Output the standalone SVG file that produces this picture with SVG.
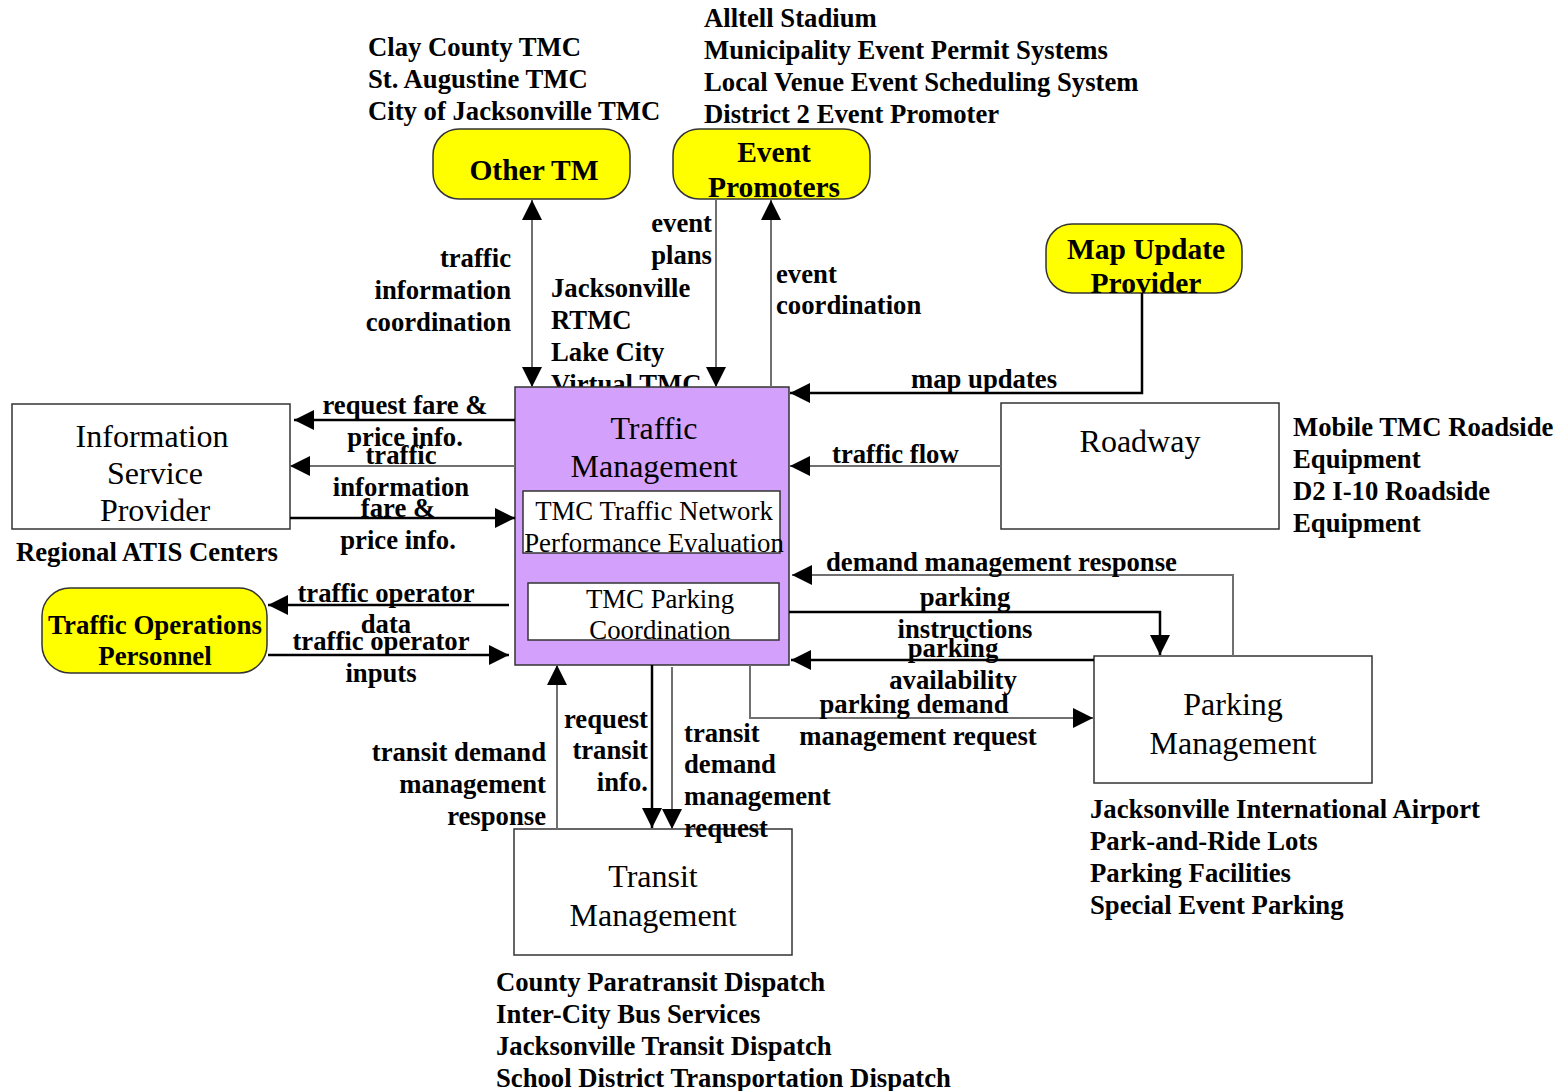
<svg xmlns="http://www.w3.org/2000/svg" width="1566" height="1091" viewBox="0 0 1566 1091">
<style>
.lbl{font-family:"Liberation Serif",serif;font-weight:bold;font-size:26.7px;fill:#000}
.r{text-anchor:end}
.m{text-anchor:middle}
.nt{font-family:"Liberation Serif",serif;font-size:32px;fill:#000;text-anchor:middle}
.st{font-family:"Liberation Serif",serif;font-size:26.8px;fill:#000;text-anchor:middle}
.yt{font-family:"Liberation Serif",serif;font-weight:bold;font-size:29.5px;fill:#000;text-anchor:middle}
.box{fill:#fff;stroke:#333;stroke-width:1.5}
.yel{fill:#ffff00;stroke:#333;stroke-width:1.5}
.k{fill:none;stroke:#000;stroke-width:2.5}
.g{fill:none;stroke:#707070;stroke-width:2}
</style>
<defs>
<marker id="ah" viewBox="0 0 20 20" refX="20" refY="10" markerWidth="20" markerHeight="20" markerUnits="userSpaceOnUse" orient="auto-start-reverse">
<path d="M0,0 L20,10 L0,20 z" fill="#000"/>
</marker>
</defs>

<g id="other-tm">
<rect class="yel" x="433" y="129" width="197" height="70" rx="26"/>
<text class="yt" x="534" y="180">Other TM</text>
<text class="lbl" x="368" y="56">Clay County TMC</text>
<text class="lbl" x="368" y="88">St. Augustine TMC</text>
<text class="lbl" x="368" y="120">City of Jacksonville TMC</text>
</g>

<g id="event-promoters">
<rect class="yel" x="673" y="129" width="197" height="70" rx="26"/>
<text class="yt" x="774" y="162">Event</text>
<text class="yt" x="774" y="197">Promoters</text>
<text class="lbl" x="704" y="27">Alltell Stadium</text>
<text class="lbl" x="704" y="59">Municipality Event Permit Systems</text>
<text class="lbl" x="704" y="91">Local Venue Event Scheduling System</text>
<text class="lbl" x="704" y="123">District 2 Event Promoter</text>
</g>

<g id="map-update-provider">
<rect class="yel" x="1046" y="224" width="196" height="69" rx="26"/>
<text class="yt" x="1146" y="259">Map Update</text>
<text class="yt" x="1146" y="293">Provider</text>
</g>

<g id="traffic-operations-personnel">
<rect class="yel" x="42" y="588" width="225" height="85" rx="28"/>
<text class="yt" x="155" y="634" style="font-size:26.9px">Traffic Operations</text>
<text class="yt" x="155" y="665" style="font-size:26.9px">Personnel</text>
</g>

<g id="information-service-provider">
<rect class="box" x="12" y="404" width="278" height="125"/>
<text class="nt" x="152" y="447">Information</text>
<text class="nt" x="155" y="484">Service</text>
<text class="nt" x="155" y="521">Provider</text>
<text class="lbl" x="16" y="561">Regional ATIS Centers</text>
</g>

<g id="traffic-management">
<text class="lbl" x="551" y="297">Jacksonville</text>
<text class="lbl" x="551" y="329">RTMC</text>
<text class="lbl" x="551" y="361">Lake City</text>
<text class="lbl" x="551" y="393">Virtual TMC</text>
<rect x="515" y="387" width="274" height="278" fill="#d3a0fc" stroke="#333" stroke-width="1.5"/>
<text class="nt" x="654" y="439">Traffic</text>
<text class="nt" x="654" y="477">Management</text>
<rect class="box" x="523" y="491" width="257" height="62"/>
<text class="st" x="654" y="520">TMC Traffic Network</text>
<text class="st" x="654" y="552">Performance Evaluation</text>
<rect class="box" x="528" y="583" width="251" height="57"/>
<text class="st" x="660" y="608">TMC Parking</text>
<text class="st" x="660" y="639">Coordination</text>
</g>

<g id="roadway">
<rect class="box" x="1001" y="403" width="278" height="126"/>
<text class="nt" x="1140" y="452">Roadway</text>
<text class="lbl" x="1293" y="436">Mobile TMC Roadside</text>
<text class="lbl" x="1293" y="468">Equipment</text>
<text class="lbl" x="1293" y="500">D2 I-10 Roadside</text>
<text class="lbl" x="1293" y="532">Equipment</text>
</g>

<g id="parking-management">
<rect class="box" x="1094" y="656" width="278" height="127"/>
<text class="nt" x="1233" y="715">Parking</text>
<text class="nt" x="1233" y="754">Management</text>
<text class="lbl" x="1090" y="818">Jacksonville International Airport</text>
<text class="lbl" x="1090" y="850">Park-and-Ride Lots</text>
<text class="lbl" x="1090" y="882">Parking Facilities</text>
<text class="lbl" x="1090" y="914">Special Event Parking</text>
</g>

<g id="transit-management">
<rect class="box" x="514" y="829" width="278" height="126"/>
<text class="nt" x="653" y="887">Transit</text>
<text class="nt" x="653" y="926">Management</text>
<text class="lbl" x="496" y="991">County Paratransit Dispatch</text>
<text class="lbl" x="496" y="1023">Inter-City Bus Services</text>
<text class="lbl" x="496" y="1055">Jacksonville Transit Dispatch</text>
<text class="lbl" x="496" y="1087">School District Transportation Dispatch</text>
</g>

<g id="connectors">
<path class="g" d="M532,200 L532,387" marker-start="url(#ah)" marker-end="url(#ah)"/>
<path class="g" d="M716,200 L716,387" marker-end="url(#ah)"/>
<path class="g" d="M771,387 L771,200" marker-end="url(#ah)"/>
<path class="k" d="M1142,293 L1142,393 L790,393" marker-end="url(#ah)"/>
<path class="g" d="M1001,466 L790,466" marker-end="url(#ah)"/>
<path class="k" d="M515,420 L294,420" marker-end="url(#ah)"/>
<path class="g" d="M515,466 L290,466" marker-end="url(#ah)"/>
<path class="k" d="M290,518 L515,518" marker-end="url(#ah)"/>
<path class="k" d="M509,605 L268,605" marker-end="url(#ah)"/>
<path class="k" d="M268,655 L509,655" marker-end="url(#ah)"/>
<path class="g" d="M1233,656 L1233,575 L792,575" marker-end="url(#ah)"/>
<path class="k" d="M789,612 L1160,612 L1160,655" marker-end="url(#ah)"/>
<path class="k" d="M1094,660 L791,660" marker-end="url(#ah)"/>
<path class="g" d="M750,665 L750,718 L1093,718" marker-end="url(#ah)"/>
<path class="g" d="M557,829 L557,665" marker-end="url(#ah)"/>
<path class="k" d="M652,665 L652,828" marker-end="url(#ah)"/>
<path class="g" d="M672,667 L672,829" marker-end="url(#ah)"/>
</g>

<g id="connector-labels">
<text class="lbl r" x="511" y="267">traffic</text>
<text class="lbl r" x="511" y="299">information</text>
<text class="lbl r" x="511" y="331">coordination</text>
<text class="lbl r" x="712" y="232">event</text>
<text class="lbl r" x="712" y="264">plans</text>
<text class="lbl" x="776" y="283">event</text>
<text class="lbl" x="776" y="314">coordination</text>
<text class="lbl m" x="984" y="388">map updates</text>
<text class="lbl" x="832" y="463">traffic flow</text>
<text class="lbl m" x="405" y="414">request fare &amp;</text>
<text class="lbl m" x="405" y="446">price info.</text>
<text class="lbl m" x="401" y="464">traffic</text>
<text class="lbl m" x="401" y="496">information</text>
<text class="lbl m" x="398" y="517">fare &amp;</text>
<text class="lbl m" x="398" y="549">price info.</text>
<text class="lbl m" x="386" y="602">traffic operator</text>
<text class="lbl m" x="386" y="633">data</text>
<text class="lbl m" x="381" y="650">traffic operator</text>
<text class="lbl m" x="381" y="682">inputs</text>
<text class="lbl" x="826" y="571">demand management response</text>
<text class="lbl m" x="965" y="606">parking</text>
<text class="lbl m" x="965" y="638">instructions</text>
<text class="lbl m" x="953" y="657">parking</text>
<text class="lbl m" x="953" y="689">availability</text>
<text class="lbl m" x="914" y="713">parking demand</text>
<text class="lbl m" x="918" y="745">management request</text>
<text class="lbl r" x="546" y="761">transit demand</text>
<text class="lbl r" x="546" y="793">management</text>
<text class="lbl r" x="546" y="825">response</text>
<text class="lbl r" x="648" y="728">request</text>
<text class="lbl r" x="648" y="759">transit</text>
<text class="lbl r" x="648" y="791">info.</text>
<text class="lbl" x="684" y="742">transit</text>
<text class="lbl" x="684" y="773">demand</text>
<text class="lbl" x="684" y="805">management</text>
<text class="lbl" x="684" y="837">request</text>
</g>
</svg>
